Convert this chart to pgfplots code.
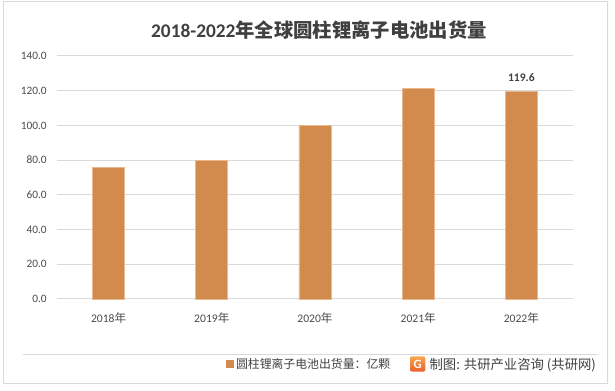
\documentclass[border=0pt]{standalone}
\usepackage{pgfplots}
\pgfplotsset{compat=1.18}
\usepackage{fontspec}
\setmainfont{Carlito}
\newfontfamily\cjk{Noto Sans CJK SC}
\definecolor{barc}{HTML}{D38B4D}
\definecolor{bare}{HTML}{E9B98F}
\definecolor{gridc}{HTML}{D9D9D9}
\definecolor{tickc}{HTML}{4A4A4A}
\definecolor{titlec}{HTML}{404040}
\definecolor{framec}{HTML}{D9D9D9}
\definecolor{logoa}{HTML}{F7A84E}
\definecolor{logob}{HTML}{E8602C}
\begin{document}
\begin{tikzpicture}
\path[use as bounding box] (0pt,0pt) rectangle (461.25pt,293.25pt);
\draw[framec, line width=0.75pt] (2.6pt,5.25pt) rectangle (455.6pt,291.75pt);
\draw[gridc, line width=0.75pt] (17.25pt,27pt) -- (447.75pt,27pt);
\node[text=titlec, font=\fontsize{14.5}{16}\selectfont\bfseries] at (239.25pt,270.75pt) {2018-2022{\cjk\bfseries 年全球圆柱锂离子电池出货量}};
\begin{axis}[at={(42.75pt,69pt)}, anchor=south west, scale only axis,
  width=387pt, height=182.25pt,
  xmin=-0.5, xmax=4.5, ymin=0, ymax=140,
  ytick={0,20,...,140}, xtick={0,1,2,3,4},
  xticklabels={2018{\cjk 年},2019{\cjk 年},2020{\cjk 年},2021{\cjk 年},2022{\cjk 年}},
  ymajorgrids, grid style={gridc, line width=0.75pt},
  axis line style={draw=none}, tick style={draw=none},
  /pgf/number format/assume math mode=true,
  yticklabel style={/pgf/number format/fixed, /pgf/number format/fixed zerofill, /pgf/number format/precision=1,
    font=\fontsize{8.5}{10}\selectfont, text=tickc, anchor=east, inner sep=0pt, xshift=-7.5pt},
  xticklabel style={font=\fontsize{8.7}{10}\selectfont, text=tickc, anchor=center, inner sep=0pt, yshift=-14pt},
  legend style={at={(0.325,-0.2675)}, anchor=west, draw=none, fill=none,
    font=\fontsize{8.9}{10}\selectfont\cjk, text=titlec, inner sep=1pt},
  legend image code/.code={\fill[barc] (0pt,-2.4pt) rectangle (4.8pt,2.4pt);},
  clip=false,
]
\addplot[ybar, bar width=24pt, bar shift=0pt, fill=barc, draw=bare, line width=0.5pt,
  nodes near coords, point meta=explicit symbolic,
  every node near coord/.append style={font=\fontsize{8.7}{10}\selectfont\bfseries, text=titlec, yshift=4pt}]
  coordinates {(0,76.0) [] (1,80.0) [] (2,100.0) [] (3,121.5) [] (4,119.6) [119.6]};
\addlegendentry{圆柱锂离子电池出货量：亿颗}
\end{axis}
\shade[top color=logoa, bottom color=logob, rounded corners=1.5pt] (307.5pt,14.5pt) rectangle (319pt,26pt);
\node[text=white, font=\fontsize{9.5}{9}\selectfont\bfseries, inner sep=0pt] at (313.25pt,20.25pt) {G};
\node[anchor=west, text=titlec, font=\fontsize{10}{10}\selectfont\cjk, inner sep=0pt] at (322pt,19.5pt) {制图: 共研产业咨询 (共研网)};
\end{tikzpicture}
\end{document}
